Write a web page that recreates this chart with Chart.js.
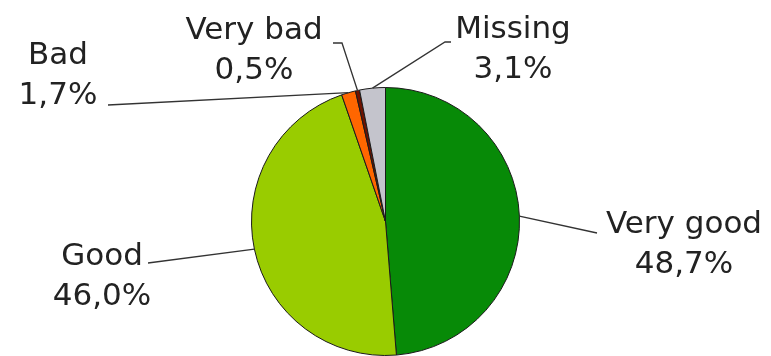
<!DOCTYPE html>
<html>
<head>
<meta charset="utf-8">
<script src="https://cdn.jsdelivr.net/npm/chart.js@4"></script>
<style>
  html, body { margin: 0; padding: 0; background: #ffffff; }
  #wrap { width: 771px; height: 356px; }
</style>
</head>
<body>
<div id="wrap"><canvas id="c" width="771" height="356"></canvas></div>
<script>
// ---- Data ----
const categories = ["Very good", "Good", "Bad", "Very bad", "Missing"];
const values = [48.7, 46.0, 1.7, 0.5, 3.1];
const sliceColors = ["#078a07", "#99cc00", "#ff6600", "#6e1200", "#c4c4cc"];

// ---- Label layout (text centre x, first baseline y, leader path after arc point) ----
const labelLayout = [
  { x: 684, y: 233, leader: [[597, 233]] },
  { x: 102, y: 265, leader: [[148, 263]] },
  { x: 58,  y: 64,  leader: [[108, 105]] },
  { x: 254, y: 39,  leader: [[342, 43], [333, 43]] },
  { x: 513, y: 38,  leader: [[445, 42], [451, 42]] }
];

function fmt(v) { return v.toFixed(1).replace('.', ',') + '%'; }

const labelPlugin = {
  id: 'pieLabels',
  afterDatasetsDraw(chart) {
    const ctx = chart.ctx;
    const meta = chart.getDatasetMeta(0);
    ctx.save();
    ctx.strokeStyle = '#333333';
    ctx.lineWidth = 1.3;
    meta.data.forEach((arc, i) => {
      const p = arc.getProps(['x', 'y', 'startAngle', 'endAngle', 'outerRadius'], true);
      const mid = (p.startAngle + p.endAngle) / 2;
      const sx = p.x + Math.cos(mid) * p.outerRadius;
      const sy = p.y + Math.sin(mid) * p.outerRadius;
      const L = labelLayout[i];
      ctx.beginPath();
      ctx.moveTo(sx, sy);
      L.leader.forEach(pt => ctx.lineTo(pt[0], pt[1]));
      ctx.stroke();
    });
    ctx.fillStyle = '#222222';
    ctx.font = '31px "DejaVu Sans", Verdana, sans-serif';
    ctx.textAlign = 'center';
    ctx.textBaseline = 'alphabetic';
    categories.forEach((c, i) => {
      const L = labelLayout[i];
      ctx.fillText(c, L.x, L.y);
      ctx.fillText(fmt(values[i]), L.x, L.y + 40);
    });
    ctx.restore();
  }
};

new Chart(document.getElementById('c'), {
  type: 'pie',
  data: {
    labels: categories,
    datasets: [{
      data: values,
      backgroundColor: sliceColors,
      borderColor: '#1a1a1a',
      borderWidth: 1
    }]
  },
  options: {
    responsive: false,
    animation: false,
    layout: { padding: { top: 87, bottom: 0, left: 0, right: 0 } },
    plugins: {
      legend: { display: false },
      tooltip: { enabled: false }
    }
  },
  plugins: [labelPlugin]
});
</script>
</body>
</html>
